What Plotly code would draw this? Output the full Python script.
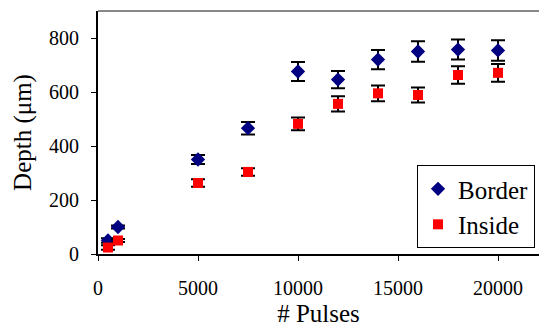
import plotly.graph_objects as go

pulses = [500, 1000, 5000, 7500, 10000, 12000, 14000, 16000, 18000, 20000]
border = [50, 100, 350, 466, 676, 646, 720, 750, 757, 754]
border_err = [8, 6, 17, 23, 35, 32, 36, 38, 37, 38]
inside = [24, 50, 263, 304, 482, 556, 595, 589, 663, 671]
inside_err = [8, 6, 14, 14, 24, 28, 29, 28, 32, 33]

font = "Liberation Serif"

fig = go.Figure()
fig.add_trace(go.Scatter(
    x=pulses, y=border, mode="markers", name="Border",
    marker=dict(symbol="diamond", color="#000080", size=11),
    error_y=dict(type="data", array=border_err, color="black", thickness=2, width=7),
))
fig.add_trace(go.Scatter(
    x=pulses, y=inside, mode="markers", name="Inside",
    marker=dict(symbol="square", color="#ff0000", size=10),
    error_y=dict(type="data", array=inside_err, color="black", thickness=2, width=7),
))

fig.update_layout(
    width=539, height=329,
    margin=dict(l=98, r=0, t=11, b=75, autoexpand=False),
    paper_bgcolor="white", plot_bgcolor="white",
    font=dict(family=font, color="black", size=20),
    showlegend=True,
    legend=dict(x=0.7234, y=0.366, xanchor="left", yanchor="top",
                bordercolor="black", borderwidth=1, bgcolor="white",
                font=dict(size=25, family=font), itemsizing="trace",
                tracegroupgap=6, itemwidth=30),
    xaxis=dict(range=[0, 22050], tickvals=[0, 5000, 10000, 15000, 20000],
               ticktext=["0", "5000", "10000", "15000", "20000"],
               showgrid=False, zeroline=False, showline=True, linecolor="black",
               linewidth=2, ticks="outside", ticklen=5, tickcolor="black",
               tickfont=dict(size=20, family=font), automargin=False,
               ticklabelstandoff=10,
               title=dict(text="# Pulses", font=dict(size=25, family=font), standoff=6)),
    yaxis=dict(range=[0, 900], tickvals=[0, 200, 400, 600, 800],
               showgrid=False, zeroline=False, showline=True, linecolor="black",
               linewidth=2, ticks="outside", ticklen=5, tickcolor="black",
               tickfont=dict(size=20, family=font), automargin=False,
               ticklabelstandoff=8,
               title=dict(text="Depth (μm)", font=dict(size=25, family=font), standoff=10)),
    shapes=[dict(type="line", xref="paper", yref="paper", x0=0, x1=1, y0=1, y1=1,
                 line=dict(color="#888888", width=2))],
)

fig.write_html("out.html")
